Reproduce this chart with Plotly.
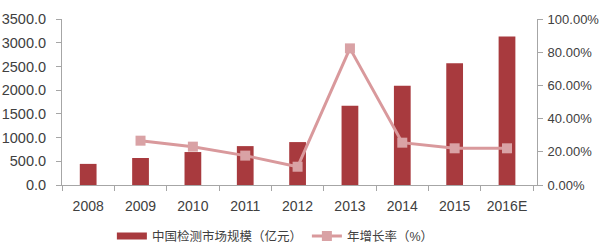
import plotly.graph_objects as go

years = ["2008", "2009", "2010", "2011", "2012", "2013", "2014", "2015", "2016E"]
market_size = [445, 570, 695, 820, 905, 1670, 2095, 2565, 3130]
growth_years = ["2009", "2010", "2011", "2012", "2013", "2014", "2015", "2016E"]
growth_rate = [0.267, 0.231, 0.177, 0.110, 0.823, 0.255, 0.221, 0.221]

left_ticks = [0, 500, 1000, 1500, 2000, 2500, 3000, 3500]
right_ticks = [0, 0.2, 0.4, 0.6, 0.8, 1.0]

font_fam = "Liberation Sans, Noto Sans CJK SC, sans-serif"
axis_col = "#A6A6A6"
txt_col = "#404040"
bar_col = "#A83A3E"

fig = go.Figure()
fig.add_trace(go.Bar(
    x=years, y=market_size, name="中国检测市场规模（亿元）", showlegend=False,
    marker=dict(color=bar_col, line=dict(width=0)), width=0.32,
))
# legend-only entry to get a wide rectangle swatch like the reference
fig.add_trace(go.Scatter(
    x=[None], y=[None], name="中国检测市场规模（亿元）", mode="lines",
    line=dict(color=bar_col, width=7),
))
fig.add_trace(go.Scatter(
    x=growth_years, y=growth_rate, name="年增长率（%）", yaxis="y2",
    mode="lines+markers",
    line=dict(color="#D9999C", width=3),
    marker=dict(symbol="square", size=10, color="#D9A2A5", line=dict(width=0)),
))

fig.update_layout(
    width=600, height=251,
    margin=dict(l=62, r=63, t=19, b=66, autoexpand=False),
    paper_bgcolor="white", plot_bgcolor="white",
    font=dict(family=font_fam, size=13, color=txt_col),
    showlegend=True,
    legend=dict(orientation="h", x=0.105, xanchor="left", y=-0.31, yanchor="middle",
                font=dict(size=12.5, color=txt_col), itemwidth=30, tracegroupgap=0),
    xaxis=dict(type="category", showline=True, linecolor=axis_col, linewidth=1,
               ticks="outside", tickson="boundaries", ticklen=5, tickcolor=axis_col,
               showgrid=False, tickfont=dict(size=14, color=txt_col),
               ticklabelstandoff=8),
    yaxis=dict(range=[0, 3500], tickvals=left_ticks, tickformat=".1f",
               showline=True, linecolor=axis_col, ticks="outside", ticklen=5,
               tickcolor=axis_col, showgrid=False, zeroline=False,
               tickfont=dict(size=14.5, color=txt_col), ticklabelstandoff=7),
    yaxis2=dict(range=[0, 1.0], tickvals=right_ticks, tickformat=".2%",
                overlaying="y", side="right", showline=True, linecolor=axis_col,
                ticks="outside", ticklen=5, tickcolor=axis_col, showgrid=False,
                zeroline=False, tickfont=dict(size=13, color=txt_col),
                ticklabelstandoff=2),
    bargap=0.68,
)

fig.write_html("out.html")
